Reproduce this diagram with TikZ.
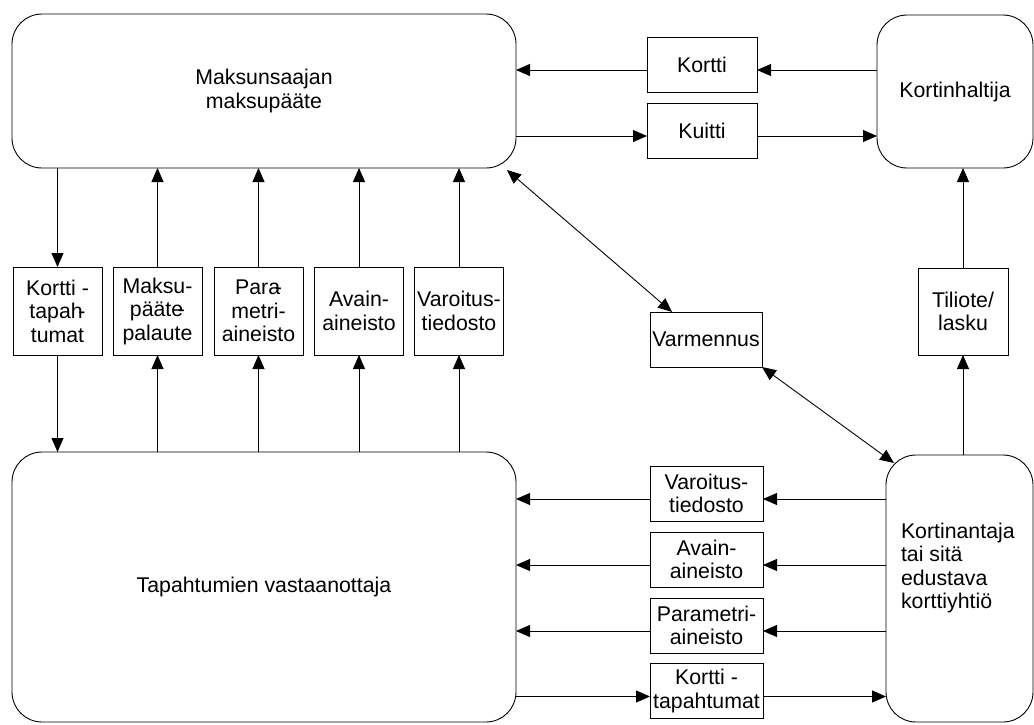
\documentclass[tikz,border=0pt]{standalone}
\usepackage{fontspec}
\setmainfont{Liberation Sans}
\usetikzlibrary{arrows.meta,calc}
\begin{document}
\begin{tikzpicture}[x=1pt,y=-1pt,
  every node/.style={font=\fontsize{21.3}{23.5}\selectfont, inner sep=0pt, outer sep=0pt, align=center},
  big/.style={draw, line width=0.9pt, rounded corners=30pt},
  box/.style={draw, line width=0.9pt},
  mid/.style={box, minimum width=89pt, minimum height=88pt},
  low/.style={box, minimum width=113pt, minimum height=55pt},
  arr/.style={line width=0.9pt, -{Triangle[length=14pt,width=12pt]}},
  darr/.style={line width=0.9pt, {Triangle[length=14pt,width=12pt]}-{Triangle[length=14pt,width=12pt]}}]
\useasboundingbox (0,0) rectangle (1034,724);

% main parties
\node[big, minimum width=504pt, minimum height=154pt] (A) at (264,91) {Maksunsaajan\\maksupääte};
\node[big, minimum width=156pt, minimum height=153pt] (C) at (955,91.5) {Kortinhaltija};
\node[big, minimum width=504pt, minimum height=270pt] (B) at (264,587) {Tapahtumien vastaanottaja};
\node[big, minimum width=147pt, minimum height=267pt] (D) at (959.5,588.5) {};
\node[anchor=north west, align=left] (Dt) at (901,523) {Kortinantaja\\tai sitä\\edustava\\korttiyhtiö};

% top message boxes
\node[box, minimum width=110pt, minimum height=55pt] (Kortti) at (702,64.5) {Kortti};
\node[box, minimum width=110pt, minimum height=55pt] (Kuitti) at (702,130.5) {Kuitti};

% middle column boxes
\node[mid] (k1) at (57.5,311) {Kortti -\\tapah\kern-0.2em-\\tumat};
\node[mid] (k2) at (157.5,311) {Maksu-\\pääte\kern-0.25em-\\palaute};
\node[mid] (k3) at (258.5,311) {Para\kern-0.25em-\\metri-\\aineisto};
\node[mid] (k4) at (359,311) {Avain-\\aineisto};
\node[mid] (k5) at (459,311) {Varoitus-\\tiedosto};

\node[box, minimum width=112pt, minimum height=55pt] (Varm) at (706,339.5) {Varmennus};
\node[box, minimum width=90pt, minimum height=87pt] (Til) at (963,311.5) {Tiliote/\\lasku};

% lower message boxes
\node[low] (v2) at (706.5,493.5) {Varoitus-\\tiedosto};
\node[low] (a2) at (706.5,559.5) {Avain-\\aineisto};
\node[low] (p2) at (706.5,625.5) {Parametri-\\aineisto};
\node[low] (t2) at (706.5,691) {Kortti -\\tapahtumat};

% top horizontal arrows
\coordinate (yK) at ($(Kortti.east)+(0,5.5)$);
\coordinate (yQ) at ($(Kuitti.east)+(0,5.5)$);
\draw[arr] (C.west |- yK) -- (yK);
\draw[arr] (Kortti.west |- yK) -- (A.east |- yK);
\draw[arr] (A.east |- yQ) -- (Kuitti.west |- yQ);
\draw[arr] (yQ) -- (C.west |- yQ);

% vertical arrows
\draw[arr] (A.south -| k1) -- (k1.north);
\draw[arr] (k1.south) -- (B.north -| k1);
\foreach \k in {k2,k3,k4,k5}{
  \draw[arr] (B.north -| \k) -- (\k.south);
  \draw[arr] (\k.north) -- (A.south -| \k);
}
\draw[arr] (D.north -| Til) -- (Til.south);
\draw[arr] (Til.north) -- (C.south -| Til);

% diagonal arrows
\draw[darr] ([shift={(-9,2)}]A.south east) -- ([shift={(22,0)}]Varm.north west);
\draw[darr] (Varm.south east) -- ([shift={(8,8)}]D.north west);

% lower horizontal arrows
\foreach \b in {v2,a2,p2}{
  \coordinate (y\b) at ($(\b.east)+(0,5.5)$);
  \draw[arr] (D.west |- y\b) -- (y\b);
  \draw[arr] (\b.west |- y\b) -- (B.east |- y\b);
}
\coordinate (yt2) at ($(t2.east)+(0,5.5)$);
\draw[arr] (B.east |- yt2) -- (t2.west |- yt2);
\draw[arr] (yt2) -- (D.west |- yt2);
\end{tikzpicture}
\end{document}
